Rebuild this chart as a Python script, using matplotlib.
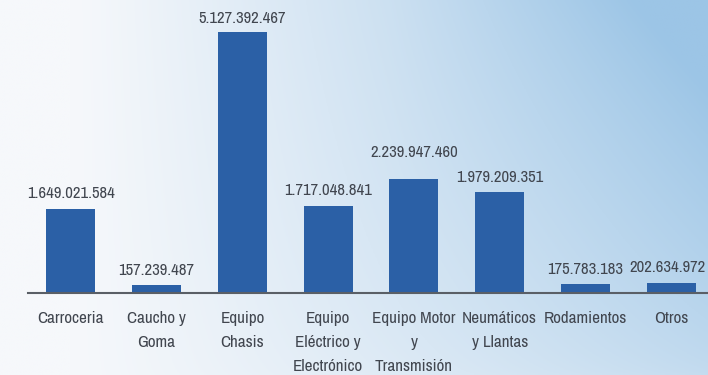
import numpy as np
import matplotlib.pyplot as plt
from matplotlib.colors import to_rgb

plt.rcParams['font.family'] = ['Archivo Narrow', 'DejaVu Sans']

categorias = ["Carroceria", "Caucho y\nGoma", "Equipo\nChasis",
              "Equipo\nEléctrico y\nElectrónico", "Equipo Motor\ny\nTransmisión",
              "Neumáticos\ny Llantas", "Rodamientos", "Otros"]
valores = [1649021584, 157239487, 5127392467, 1717048841,
           2239947460, 1979209351, 175783183, 202634972]
# separacion de cada etiqueta sobre la barra (px)
desplaz = [16, 15, 14, 15, 27, 15, 15, 15]
corr_x = [0, 0, 0, 0, 0, 0, 0, -4]


def miles(v):
    return f"{v:,}".replace(",", ".")


fig = plt.figure(figsize=(7.08, 3.75), dpi=100)

# fondo: blanco a la izquierda, celeste hacia la derecha
bg = fig.add_axes([0, 0, 1, 1])
nx, ny = 300, 160
xx, yy = np.meshgrid(np.linspace(0, 1, nx), np.linspace(0, 1, ny))
t = np.clip((xx - 0.1) / 0.9, 0, 1) ** 1.1 * (0.55 + 0.45 * (1 - yy) ** 0.7)
t = t + 0.35 * np.clip(xx - 0.55, 0, 1) * (1 - yy) ** 3
t = np.clip(t, 0, 1)
c0 = np.array(to_rgb('#f6f8fb'))
c1 = np.array(to_rgb('#9cc5e6'))
img = c0 + (c1 - c0) * t[..., None]
bg.imshow(img, aspect='auto', extent=[0, 1, 0, 1], origin='upper')
bg.axis('off')

ax = fig.add_axes([28 / 708, 82 / 375, 686 / 708, 293 / 375])
ax.patch.set_alpha(0)
x = np.arange(len(valores))
ax.bar(x, valores, width=0.57, color='#2b60a6', zorder=2)

for xi, v, d, dx in zip(x, valores, desplaz, corr_x):
    ax.annotate(miles(v), (xi, v), xytext=(dx, d), textcoords='offset pixels',
                ha='center', va='center', fontsize=12, color='#41464f')

ax.set_xlim(-0.5, 7.5)
ax.set_ylim(0, 5.76e9)
ax.set_xticks(x)
ax.set_xticklabels(categorias, fontsize=12.3, color='#41464f', linespacing=1.75)
ax.tick_params(axis='x', length=0, pad=13)
ax.set_yticks([])
for s in ['top', 'right', 'left']:
    ax.spines[s].set_visible(False)
ax.spines['bottom'].set_color('#5a5f66')
ax.spines['bottom'].set_linewidth(1.5)

fig.savefig('out.png', dpi=100)
